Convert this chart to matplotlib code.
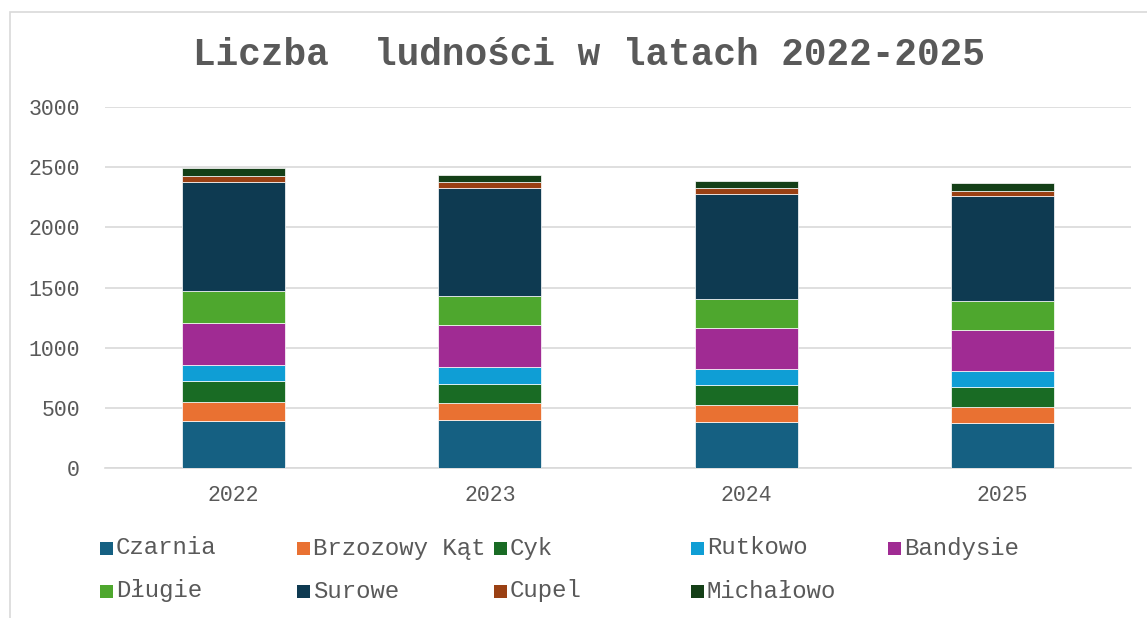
import matplotlib
matplotlib.use("Agg")
import matplotlib.pyplot as plt
from matplotlib.patches import Rectangle
import numpy as np

years = ["2022", "2023", "2024", "2025"]
series_names = ["Czarnia", "Brzozowy Kąt", "Cyk", "Rutkowo", "Bandysie",
                "Długie", "Surowe", "Cupel", "Michałowo"]
czarnia = [390, 395, 385, 375]
brzozowy_kat = [155, 145, 140, 135]
cyk = [175, 160, 165, 165]
rutkowo = [135, 140, 135, 130]
bandysie = [350, 345, 335, 340]
dlugie = [265, 245, 245, 240]
surowe = [910, 900, 875, 875]
cupel = [50, 50, 50, 45]
michalowo = [60, 55, 55, 60]
series_values = [czarnia, brzozowy_kat, cyk, rutkowo, bandysie,
                 dlugie, surowe, cupel, michalowo]
colors = ["#156082", "#E97132", "#196B24", "#0F9ED5", "#A02B93",
          "#4EA72E", "#0E3A51", "#9A4013", "#143F17"]
yticks = [0, 500, 1000, 1500, 2000, 2500, 3000]
title = "Liczba  ludności w latach 2022-2025"

W, H = 1147, 618
fig = plt.figure(figsize=(W / 100, H / 100), dpi=100)
font = "Liberation Mono"
txtc = "#595959"

ax = fig.add_axes([105 / W, 1 - 468 / H, 1026 / W, 361 / H])
x = np.arange(len(years))
bottom = np.zeros(len(years))
for name, vals, c in zip(series_names, series_values, colors):
    ax.bar(x, vals, width=0.4, bottom=bottom, color=c, edgecolor="white",
           linewidth=0.5, zorder=3)
    bottom += np.array(vals)

ax.set_xlim(-0.5, len(years) - 0.5)
ax.set_ylim(0, 3000)
ax.set_yticks(yticks)
ax.set_yticklabels([str(v) for v in yticks], fontfamily=font, fontsize=15.5, color=txtc)
ax.set_xticks(x)
ax.set_xticklabels(years, fontfamily=font, fontsize=15.5, color=txtc)
ax.tick_params(axis="y", length=0, pad=18)
ax.tick_params(axis="x", length=0, pad=12)
ax.grid(axis="y", color="#D9D9D9", linewidth=1.2, zorder=0)
for s in ["top", "right", "left"]:
    ax.spines[s].set_visible(False)
ax.spines["bottom"].set_color("#D9D9D9")
ax.spines["bottom"].set_linewidth(1.2)

fig.text(589 / W, 1 - 55 / H, title, ha="center", va="center",
         fontfamily=font, fontweight="bold", fontsize=27.2, color=txtc)

# legend (row-major, fixed column spacing)
for i, (name, c) in enumerate(zip(series_names, colors)):
    row, col = divmod(i, 5)
    px = 100 + col * 197
    py = 548 + row * 43
    fig.patches.append(Rectangle(((px) / W, 1 - (py + 6.5) / H), 13 / W, 13 / H,
                                 transform=fig.transFigure, facecolor=c,
                                 edgecolor="none"))
    fig.text((px + 16) / W, 1 - py / H, name, ha="left", va="center",
             fontfamily=font, fontsize=17.3, color=txtc)

# chart border
fig.patches.append(Rectangle((10 / W, -0.1), 1.2, 1 - 12 / H + 0.1,
                             transform=fig.transFigure, facecolor="none",
                             edgecolor="#D9D9D9", linewidth=1.2))

fig.savefig("out.png", dpi=100, facecolor="white")
